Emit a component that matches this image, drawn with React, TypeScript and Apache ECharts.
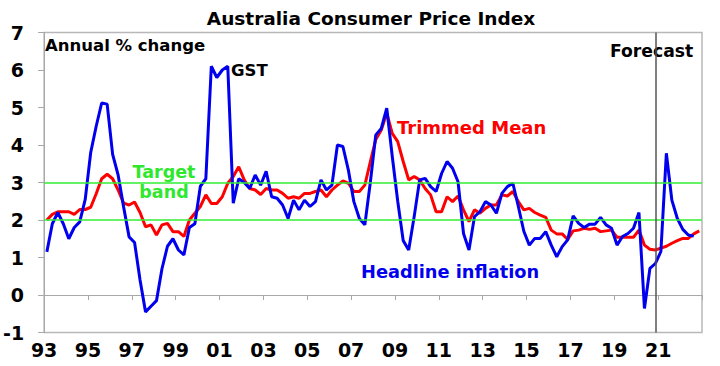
import React, { useEffect, useRef } from "react";
import * as echarts from "echarts";

// Quarterly, first point = March quarter 1993
const startYear = 1993;
const headline = [
  1.15, 1.9, 2.2, 1.9,
  1.5, 1.8, 1.95, 2.55,
  3.8, 4.5, 5.12, 5.09,
  3.75, 3.2, 2.35, 1.55,
  1.4, 0.4, -0.45, -0.3,
  -0.15, 0.7, 1.3, 1.5,
  1.2, 1.07, 1.8, 1.9,
  2.9, 3.1, 6.1, 5.8,
  6.0, 6.1, 2.45, 3.1,
  3.0, 2.84, 3.2, 2.93,
  3.3, 2.62, 2.58, 2.4,
  2.04, 2.53, 2.27, 2.53,
  2.36, 2.49, 3.07, 2.8,
  2.93, 4.0, 3.96, 3.33,
  2.49, 2.04, 1.87, 3.0,
  4.27, 4.44, 4.98, 3.7,
  2.5, 1.45, 1.2, 2.09,
  3.07, 3.11, 2.89, 2.76,
  3.24, 3.56, 3.38, 3.02,
  1.64, 1.2, 2.09, 2.22,
  2.49, 2.4, 2.18, 2.71,
  2.89, 2.98, 2.36, 1.7,
  1.33, 1.51, 1.51, 1.69,
  1.33, 1.02, 1.29, 1.47,
  2.11, 1.91, 1.8, 1.89,
  1.89, 2.07, 1.87, 1.78,
  1.33, 1.56, 1.64, 1.78,
  2.2, -0.36, 0.71, 0.84,
  1.16, 3.78, 2.53, 2.04,
  1.75, 1.6, 1.57,
];
const trimmedMean = [
  2.0, 2.15, 2.22, 2.22,
  2.22, 2.15, 2.28, 2.28,
  2.34, 2.7, 3.1, 3.22,
  3.1, 2.8, 2.45, 2.4,
  2.48, 2.2, 1.82, 1.87,
  1.6, 1.87, 1.91, 1.69,
  1.69, 1.56, 2.0, 2.18,
  2.36, 2.67, 2.44, 2.44,
  2.62, 2.98, 3.16, 3.42,
  3.07, 2.84, 2.8, 2.68,
  2.84, 2.8, 2.8, 2.71,
  2.58, 2.62, 2.58, 2.71,
  2.71, 2.76, 2.8, 2.62,
  2.8, 2.93, 3.04, 2.98,
  2.76, 2.76, 2.93, 3.55,
  4.15, 4.4, 4.85, 4.31,
  4.09, 3.56, 3.07, 3.16,
  3.07, 2.84, 2.67, 2.22,
  2.22, 2.62, 2.49, 2.64,
  2.27, 1.96, 2.27, 2.18,
  2.31, 2.4, 2.4, 2.67,
  2.64, 2.76, 2.49, 2.27,
  2.31, 2.2, 2.13, 2.07,
  1.73, 1.63, 1.63, 1.48,
  1.71, 1.73, 1.78, 1.75,
  1.78, 1.69, 1.71, 1.73,
  1.54, 1.54, 1.54, 1.54,
  1.73, 1.33, 1.22, 1.2,
  1.25, 1.3, 1.38, 1.45,
  1.51, 1.51, 1.63, 1.71,
];
const targetBand = [2, 3];
const forecastStart = 2020.875; // last actual quarter (Dec 2020)
const xMin = 1993;
const xMax = 2023;
const yMin = -1;
const yMax = 7;

const FONT = "'DejaVu Sans', sans-serif";

const toPairs = (arr: number[]) =>
  arr.map((v, i) => [startYear + (i + 0.5) / 4, v]);

export default function App() {
  const ref = useRef<HTMLDivElement>(null);
  useEffect(() => {
    if (!ref.current) return;
    const chart = echarts.init(ref.current, null, { renderer: "svg" });
    const axisGray = "#a8a8a8";
    chart.setOption({
      animation: false,
      backgroundColor: "#ffffff",
      title: {
        text: "Australia Consumer Price Index",
        left: 366,
        textAlign: "center",
        top: 4,
        textStyle: { fontFamily: FONT, fontWeight: "bold", fontSize: 18.5, color: "#000" },
      },
      grid: {
        left: 39.5,
        right: 18,
        top: 32.5,
        bottom: 33.5,
        show: true,
        borderColor: "#b8b8b8",
        borderWidth: 1.5,
        backgroundColor: "transparent",
      },
      xAxis: [
        {
          type: "value",
          min: xMin,
          max: xMax,
          interval: 2,
          position: "bottom",
          axisLine: { show: true, onZero: true, lineStyle: { color: axisGray, width: 1 } },
          axisTick: { show: true, length: 5, lineStyle: { color: axisGray } },
          axisLabel: { show: false },
          splitLine: { show: false },
        },
        {
          type: "value",
          min: xMin,
          max: xMax,
          interval: 2,
          position: "bottom",
          axisLine: { show: false, onZero: false },
          axisTick: { show: false },
          axisLabel: {
            fontFamily: FONT,
            fontWeight: "bold",
            fontSize: 19,
            color: "#000",
            margin: 8,
            showMaxLabel: false,
            formatter: (v: number) => (v >= xMax ? "" : String(v).slice(2)),
          },
          splitLine: { show: false },
        },
      ],
      yAxis: {
        type: "value",
        min: yMin,
        max: yMax,
        interval: 1,
        axisLine: { show: true, lineStyle: { color: axisGray, width: 1 } },
        axisTick: { show: true, length: 6, lineStyle: { color: axisGray } },
        axisLabel: { fontFamily: FONT, fontWeight: "bold", fontSize: 19, color: "#000", margin: 20 },
        splitLine: { show: false },
      },
      series: [
        {
          name: "Target band",
          type: "line",
          data: [],
          markLine: {
            silent: true,
            symbol: ["none", "none"],
            label: { show: false },
            lineStyle: { color: "#33ee33", width: 1.5, type: "solid" },
            data: targetBand.map((v) => ({ yAxis: v })),
          },
        },
        {
          name: "Forecast",
          type: "line",
          data: [],
          markLine: {
            silent: true,
            symbol: ["none", "none"],
            label: { show: false },
            lineStyle: { color: "#555555", width: 1.5, type: "solid" },
            data: [{ xAxis: forecastStart }],
          },
        },
        {
          name: "Trimmed Mean",
          type: "line",
          data: toPairs(trimmedMean),
          showSymbol: false,
          lineStyle: { color: "#ff0000", width: 3 },
          z: 3,
        },
        {
          name: "Headline inflation",
          type: "line",
          data: toPairs(headline),
          showSymbol: false,
          lineStyle: { color: "#0000ee", width: 3 },
          z: 4,
        },
      ],
      graphic: [
        {
          type: "text",
          x: 45,
          y: 45,
          style: { text: "Annual % change", font: `bold 16.5px ${FONT}`, fill: "#000", textAlign: "left", textVerticalAlign: "middle" },
        },
        {
          type: "text",
          x: 231,
          y: 70,
          style: { text: "GST", font: `bold 16.5px ${FONT}`, fill: "#000", textAlign: "left", textVerticalAlign: "middle" },
        },
        {
          type: "text",
          x: 164,
          y: 182,
          style: { text: "Target\nband", font: `bold 17.5px ${FONT}`, lineHeight: 20, fill: "#2ee82e", textAlign: "center", textVerticalAlign: "middle" },
        },
        {
          type: "text",
          x: 397,
          y: 127,
          style: { text: "Trimmed Mean", font: `bold 18px ${FONT}`, fill: "#ff0000", textAlign: "left", textVerticalAlign: "middle" },
        },
        {
          type: "text",
          x: 361,
          y: 271.5,
          style: { text: "Headline inflation", font: `bold 17.8px ${FONT}`, fill: "#0000ee", textAlign: "left", textVerticalAlign: "middle" },
        },
        {
          type: "text",
          x: 610,
          y: 51,
          style: { text: "Forecast", font: `bold 17.2px ${FONT}`, fill: "#000", textAlign: "left", textVerticalAlign: "middle" },
        },
      ],
    });
    return () => chart.dispose();
  }, []);
  return (
    <div
      ref={ref}
      style={{ position: "fixed", left: 0, top: 0, width: 720, height: 366, background: "#fff" }}
    />
  );
}
